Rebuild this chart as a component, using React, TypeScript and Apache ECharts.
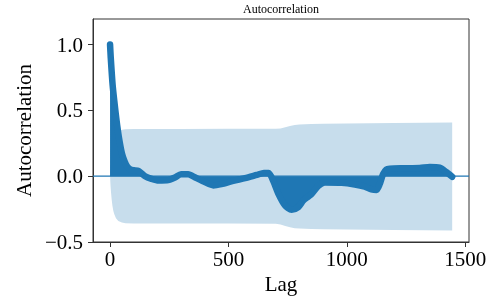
import React, { useEffect, useRef } from 'react';
import * as echarts from 'echarts';

const acfLags = [0, 3, 11, 18, 27, 37, 50, 62, 72, 85, 100, 120, 148, 175, 204, 246, 274, 300, 330, 360, 400, 436, 470, 520, 570, 620, 650, 670, 690, 710, 738, 767, 795, 816, 837, 851, 879, 907, 978, 1034, 1076, 1104, 1125, 1139, 1153, 1167, 1181, 1238, 1308, 1350, 1392, 1421, 1445];
const acfValues = [1.0, 0.9, 0.69, 0.57, 0.43, 0.3, 0.175, 0.11, 0.075, 0.052, 0.045, 0.04, 0.0, -0.02, -0.033, -0.03, -0.01, 0.015, 0.015, -0.01, -0.045, -0.07, -0.06, -0.035, -0.015, 0.01, 0.025, 0.025, -0.04, -0.13, -0.22, -0.255, -0.235, -0.185, -0.155, -0.135, -0.075, -0.048, -0.05, -0.063, -0.08, -0.1, -0.105, -0.06, 0.015, 0.05, 0.057, 0.06, 0.062, 0.07, 0.065, 0.03, -0.005];

const bandLags = [0, 2, 4, 7, 10, 14, 18, 25, 35, 50, 65, 100, 300, 500, 700, 720, 740, 760, 780, 800, 850, 900, 1000, 1200, 1445];
const bandUpper = [0, 0.07, 0.12, 0.18, 0.225, 0.265, 0.29, 0.32, 0.34, 0.352, 0.356, 0.358, 0.359, 0.36, 0.36, 0.363, 0.372, 0.382, 0.389, 0.393, 0.397, 0.399, 0.401, 0.404, 0.408];
const bandLower = [0, -0.07, -0.12, -0.18, -0.225, -0.265, -0.29, -0.32, -0.34, -0.352, -0.357, -0.36, -0.36, -0.36, -0.362, -0.368, -0.378, -0.388, -0.395, -0.398, -0.401, -0.403, -0.405, -0.408, -0.412];

const xTicks = [0, 500, 1000, 1500];
const yTicks = [-0.5, 0, 0.5, 1.0];
const xRange = [-72, 1516];
const yRange = [-0.5, 1.194];

export default function App() {
  const ref = useRef<HTMLDivElement>(null);
  useEffect(() => {
    const chart = echarts.init(ref.current!, null, { renderer: 'svg' });
    const C0 = '#1f77b4';
    const bandColor = '#c7ddec';
    const font = 'Liberation Serif';
    const zip = (a: number[], b: number[]) => a.map((v, i) => [v, b[i]]);
    chart.setOption({
      animation: false,
      grid: { left: 93, right: 28, top: 19, bottom: 59, show: true, borderColor: '#333', borderWidth: 1, backgroundColor: 'transparent' },
      graphic: [{
        type: 'text', x: 281, y: 3,
        style: { text: 'Autocorrelation', fontFamily: font, fontSize: 12, fill: '#000', align: 'center', verticalAlign: 'top' },
      }],
      xAxis: {
        type: 'value', min: xRange[0], max: xRange[1],
        splitLine: { show: false },
        axisLine: { show: true, onZero: false, lineStyle: { color: '#333', width: 1 } },
        axisTick: { show: true, length: 5, customValues: xTicks, lineStyle: { color: '#333' } },
        axisLabel: { customValues: xTicks, margin: 6, fontFamily: font, fontSize: 21, color: '#000', formatter: (v: number) => String(v) },
        name: 'Lag', nameLocation: 'middle', nameGap: 27,
        nameTextStyle: { fontFamily: font, fontSize: 21, color: '#000' },
      },
      yAxis: {
        type: 'value', min: yRange[0], max: yRange[1],
        splitLine: { show: false },
        axisLine: { show: true, onZero: false, lineStyle: { color: '#333', width: 1 } },
        axisTick: { show: true, length: 5, customValues: yTicks, lineStyle: { color: '#333' } },
        axisLabel: {
          customValues: yTicks, margin: 10, fontFamily: font, fontSize: 21, color: '#000',
          formatter: (v: number) => v.toFixed(1).replace('-', '\u2212'),
        },
        name: 'Autocorrelation', nameLocation: 'middle', nameGap: 58,
        nameTextStyle: { fontFamily: font, fontSize: 21, color: '#000' },
      },
      series: [
        {
          type: 'line', data: zip(bandLags, bandUpper), showSymbol: false, z: 1,
          lineStyle: { width: 0, color: bandColor }, areaStyle: { color: bandColor, opacity: 1 },
        },
        {
          type: 'line', data: zip(bandLags, bandLower), showSymbol: false, z: 1,
          lineStyle: { width: 0, color: bandColor }, areaStyle: { color: bandColor, opacity: 1 },
        },
        {
          type: 'line', data: [[xRange[0], 0], [xRange[1], 0]], showSymbol: false, z: 2,
          lineStyle: { width: 1.3, color: C0 },
        },
        {
          type: 'line', data: zip(acfLags, acfValues), showSymbol: false, z: 3,
          smooth: 0.25,
          lineStyle: { width: 6.5, color: C0, cap: 'round', join: 'round' },
          areaStyle: { color: C0, opacity: 1 },
        },
      ],
    });
    return () => chart.dispose();
  }, []);
  return <div ref={ref} style={{ position: 'fixed', left: 0, top: 0, width: 497, height: 301 }} />;
}
